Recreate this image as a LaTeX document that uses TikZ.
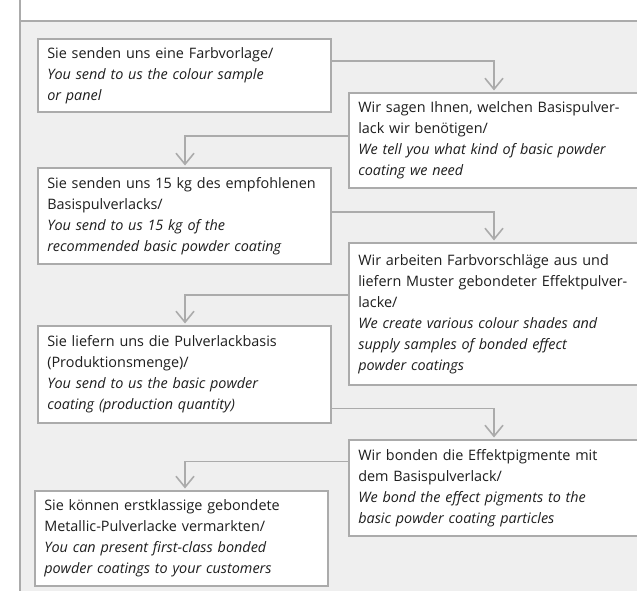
\documentclass[tikz,border=0pt]{standalone}
\usepackage{fontspec}
\setmainfont{Open Sans}
\usetikzlibrary{calc,arrows.meta}
\definecolor{bggray}{HTML}{EFEFEF}
\definecolor{linegray}{HTML}{ABABAB}
\definecolor{txt}{HTML}{1E1E1E}
\tikzset{
  stepbox/.style={draw=linegray, fill=white, line width=1.6pt, anchor=north west,
    inner xsep=9.5pt, inner ysep=0pt, align=left, text=txt,
    font=\fontsize{14.4}{21}\selectfont},
  lbox/.style={stepbox, minimum width=293pt, text width=274pt},
  rbox/.style={stepbox, minimum width=320pt, text width=301pt},
  conn/.style={draw=linegray, line width=1.6pt,
    -{Straight Barb[length=11pt,width=18pt,line width=1.6pt]}, shorten >=1.5pt},
}
\begin{document}
\begin{tikzpicture}[x=1pt,y=-1pt]
\useasboundingbox (0,0) rectangle (637,591);
\clip (0,0) rectangle (637,591);
\fill[bggray] (20,21) rectangle (637,591);
\draw[linegray, line width=1.4pt] (20,0) -- (20,591);
\draw[linegray, line width=1.4pt] (20,21) -- (637,21);

\node[lbox, minimum height=73pt] (b1) at (37,38)
  {Sie senden uns eine Farbvorlage/\\\textit{You send to us the colour sample}\\\textit{or panel}};
\node[rbox, minimum height=95pt] (b2) at (348,92)
  {Wir sagen Ihnen, welchen Basispulver-\\lack wir benötigen/\\\textit{We tell you what kind of basic powder}\\\textit{coating we need}};
\node[lbox, minimum height=96pt] (b3) at (37,167)
  {Sie senden uns 15 kg des empfohlenen\\Basispulverlacks/\\\textit{You send to us 15 kg of the}\\\textit{recommended basic powder coating}};
\node[rbox, minimum height=142pt] (b4) at (348,242)
  {Wir arbeiten Farbvorschläge aus und\\liefern Muster gebondeter Effektpulver-\\lacke/\\\textit{We create various colour shades and}\\\textit{supply samples of bonded effect}\\\textit{powder coatings}};
\node[lbox, minimum height=97pt] (b5) at (37,325)
  {Sie liefern uns die Pulverlackbasis\\(Produktionsmenge)/\\\textit{You send to us the basic powder}\\\textit{coating (production quantity)}};
\node[rbox, minimum height=96pt] (b6) at (348,439)
  {Wir bonden die Effektpigmente mit\\dem Basispulverlack/\\\textit{We bond the effect pigments to the}\\\textit{basic powder coating particles}};
\node[lbox, minimum height=95pt] (b7) at (34,490)
  {Sie können erstklassige gebondete\\Metallic-Pulverlacke vermarkten/\\\textit{You can present first-class bonded}\\\textit{powder coatings to your customers}};

\draw[conn] ($(b1.north east)+(0,23)$) -| ($(b2.north west)+(146,0)$);
\draw[conn] ($(b2.north west)+(0,44)$) -| ($(b3.north west)+(148,0)$);
\draw[conn] ($(b3.north east)+(0,45)$) -| ($(b4.north west)+(146,0)$);
\draw[conn] ($(b4.north west)+(0,53)$) -| ($(b5.north west)+(148,0)$);
\draw[conn] ($(b5.north east)+(0,83.5)$) -| ($(b6.north west)+(146,0)$);
\draw[conn] ($(b6.north west)+(0,22.5)$) -| ($(b7.north west)+(151,0)$);
\end{tikzpicture}
\end{document}
